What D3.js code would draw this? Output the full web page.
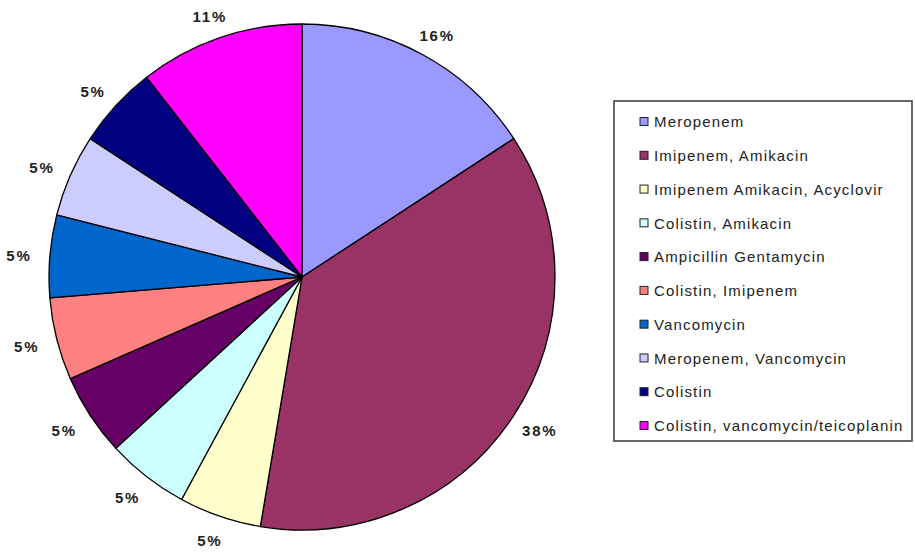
<!DOCTYPE html>
<html>
<head>
<meta charset="utf-8">
<script src="https://cdn.jsdelivr.net/npm/d3@7"></script>
<style>
  body { margin: 0; background: #fff; }
  text { font-family: "Liberation Sans", Arial, sans-serif; fill: #222; }
</style>
</head>
<body>
<div id="chart"></div>
<script>
// regimens, in the order the slices run clockwise from 12 o'clock
const categories = [
  'Meropenem',
  'Imipenem, Amikacin',
  'Imipenem Amikacin, Acyclovir',
  'Colistin, Amikacin',
  'Ampicillin Gentamycin',
  'Colistin, Imipenem',
  'Vancomycin',
  'Meropenem, Vancomycin',
  'Colistin',
  'Colistin, vancomycin/teicoplanin'
];
// patient counts (slice angles match n = 19)
const counts = [3, 7, 1, 1, 1, 1, 1, 1, 1, 2];
// labels as printed on the chart
const pctLabels = ['16%', '38%', '5%', '5%', '5%', '5%', '5%', '5%', '5%', '11%'];
const palette = ['#9999FF', '#993366', '#FFFFCC', '#CCFFFF', '#660066',
                 '#FF8080', '#0066CC', '#CCCCFF', '#000080', '#FF00FF'];

const W = 915, H = 552;
const cx = 302, cy = 277, R = 253;

const svg = d3.select('#chart').append('svg')
  .attr('width', W).attr('height', H);

const color = d3.scaleOrdinal().domain(categories).range(palette);

const pie = d3.pie().sort(null).value(d => d.n);
const rows = categories.map((c, i) => ({ name: c, n: counts[i], label: pctLabels[i] }));
const arcs = pie(rows);

const arc = d3.arc().innerRadius(0).outerRadius(R);

const g = svg.append('g').attr('transform', `translate(${cx},${cy})`);

g.selectAll('path.slice')
  .data(arcs)
  .join('path')
  .attr('class', 'slice')
  .attr('d', arc)
  .attr('fill', d => color(d.data.name))
  .attr('stroke', '#000')
  .attr('stroke-width', 1.3)
  .attr('stroke-linejoin', 'round');

// labels sit on a slightly flattened ring outside the pie
const rx = 284, ry = 277, dyRing = 2;
const mid = d => (d.startAngle + d.endAngle) / 2;

g.selectAll('text.pct')
  .data(arcs)
  .join('text')
  .attr('class', 'pct')
  .attr('x', d => rx * Math.sin(mid(d)))
  .attr('y', d => dyRing - ry * Math.cos(mid(d)))
  .attr('text-anchor', 'middle')
  .attr('dy', '0.35em')
  .style('font-size', '15px')
  .style('font-weight', 'bold')
  .style('letter-spacing', '1.8px')
  .text(d => d.data.label);

// legend
const lx = 614, ly = 101, lw = 298, lh = 340;
const legend = svg.append('g');
legend.append('rect')
  .attr('x', lx).attr('y', ly).attr('width', lw).attr('height', lh)
  .attr('fill', '#fff').attr('stroke', '#444').attr('stroke-width', 1.6);

const ly0 = d3.scalePoint().domain(categories).range([122, 426]);

const item = legend.selectAll('g.item')
  .data(categories)
  .join('g')
  .attr('class', 'item')
  .attr('transform', d => `translate(640,${ly0(d)})`);

item.append('rect')
  .attr('x', 0).attr('y', -4.5).attr('width', 8).attr('height', 8)
  .attr('fill', d => color(d))
  .attr('stroke', '#222').attr('stroke-width', 1);

item.append('text')
  .attr('x', 14).attr('dy', '0.35em')
  .style('font-size', '15px')
  .style('letter-spacing', '1.15px')
  .text(d => d);
</script>
</body>
</html>
